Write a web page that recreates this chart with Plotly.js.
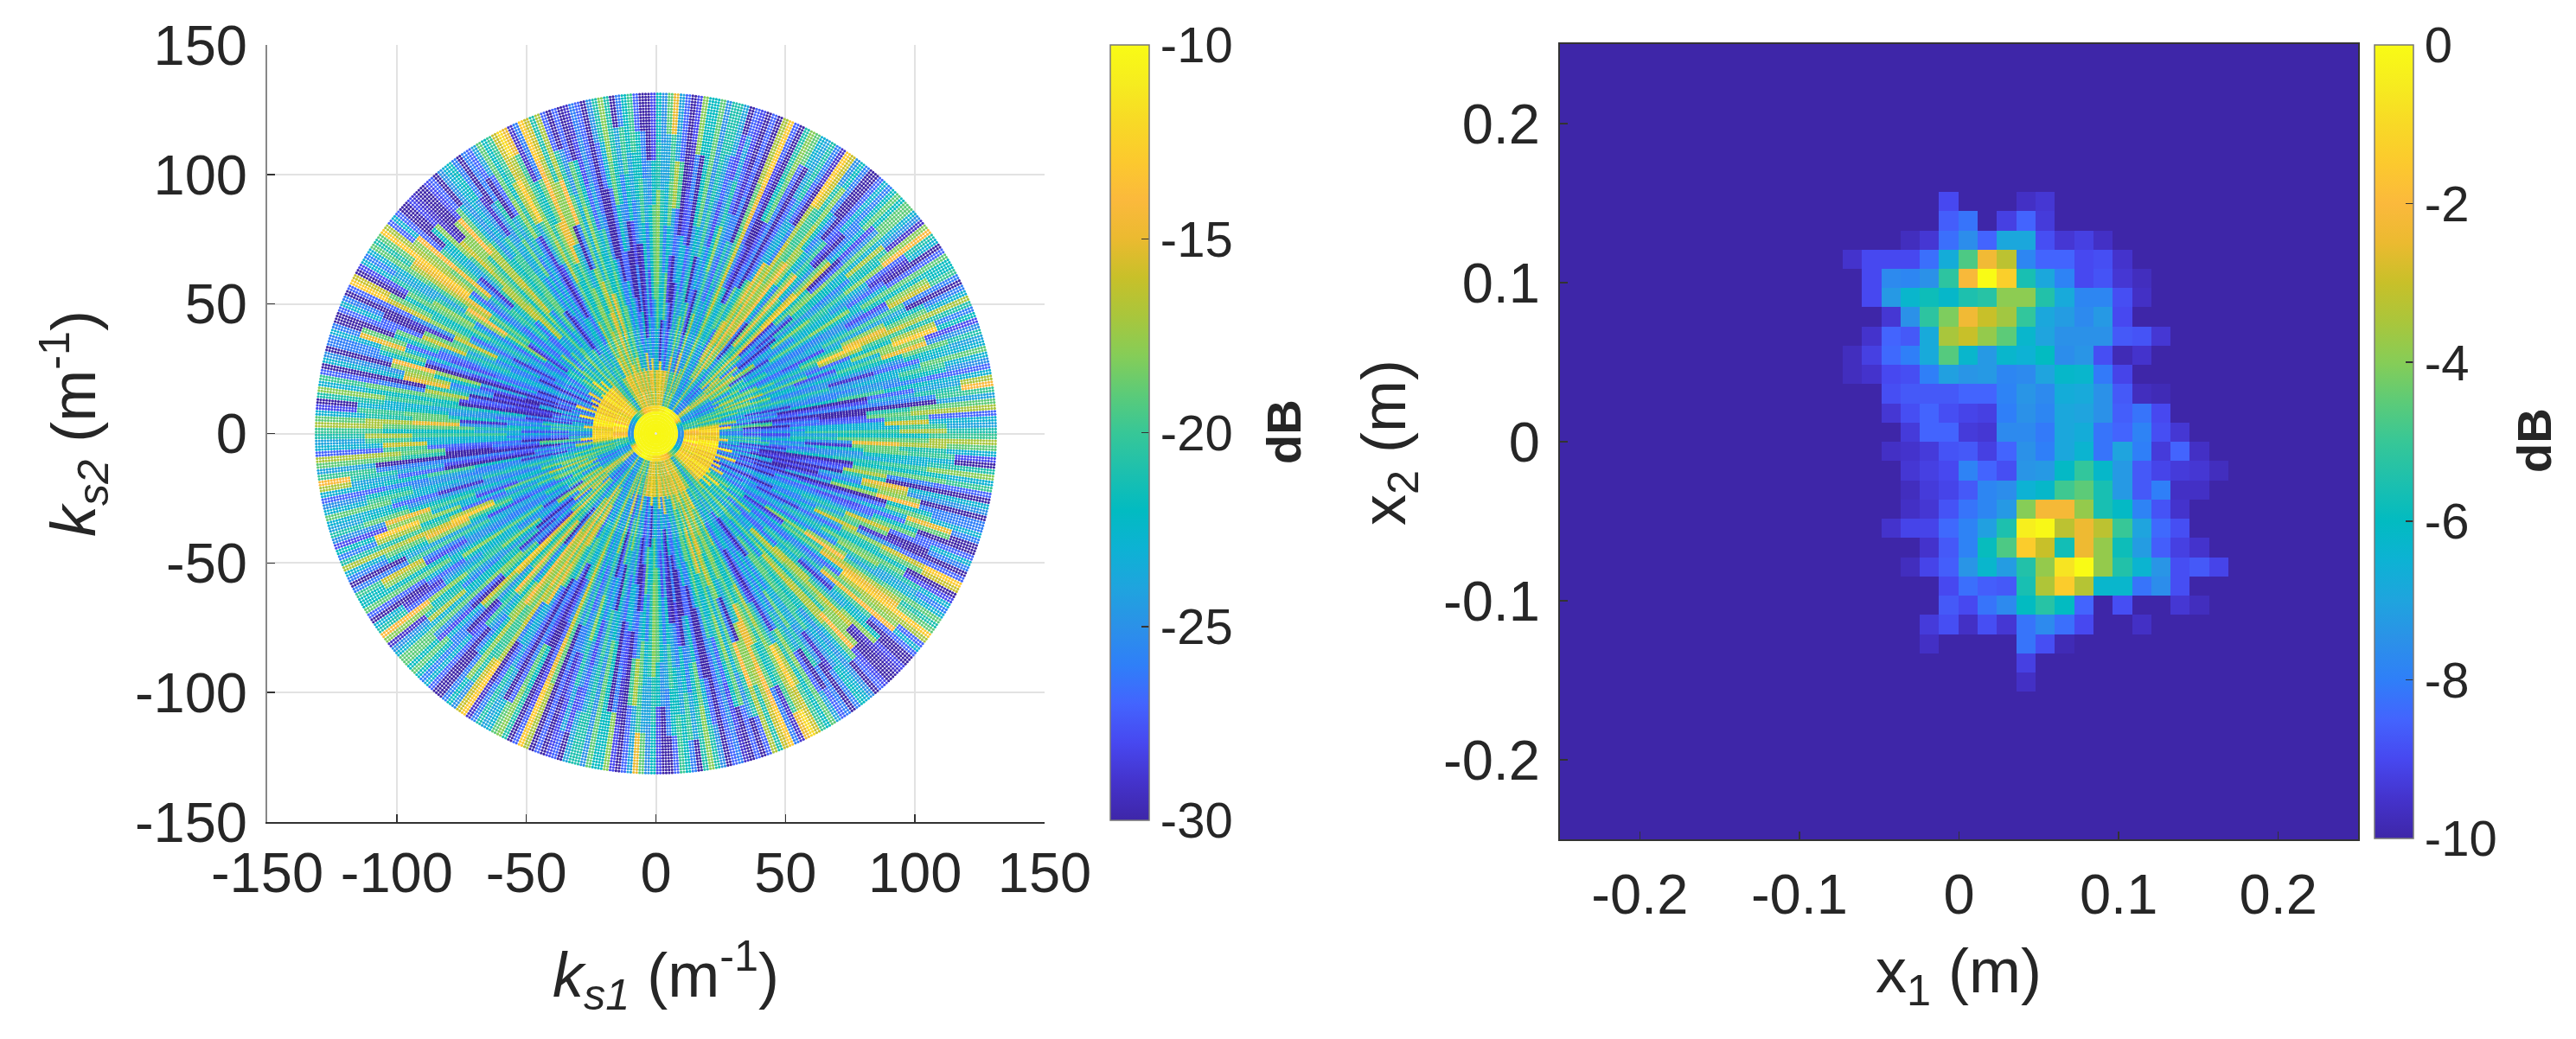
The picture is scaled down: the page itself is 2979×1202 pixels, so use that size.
<!DOCTYPE html>
<html><head><meta charset="utf-8">
<script src="https://cdn.plot.ly/plotly-3.0.1.min.js"></script>
<style>html,body{margin:0;padding:0;background:#fff}#c{width:2979px;height:1202px}</style>
</head><body><div id="c"></div>
<script>
// Left panel: dB read per 2-degree wedge (0-180 deg; the disc is point-symmetric),
// radial bands from inner to outer
const bandEdges = [11, 24, 40, 58, 76, 94, 112, 132];
const discRadius = 132;
const centreValue = -10.3;
const wedgeValues = [
[-12,-25,-24,-21,-21,-18,-22],[-12,-23,-29,-25,-25,-18,-25],[-12,-20,-27,-29,-20,-18,-18],[-14,-26,-29,-28,-28,-28,-22],
[-17,-25,-29,-29,-25,-22,-15],[-21,-24,-27,-24,-22,-24,-25],[-20,-23,-24,-25,-24,-21,-24],[-19,-20,-22,-23,-27,-25,-21],
[-20,-19,-24,-23,-23,-20,-22],[-20,-19,-23,-26,-21,-16,-26],[-21,-18,-21,-25,-20,-15,-24],[-24,-18,-21,-23,-15,-18,-19],
[-25,-19,-24,-20,-16,-20,-24],[-25,-20,-25,-26,-22,-22,-28],[-25,-21,-25,-24,-27,-17,-21],[-24,-20,-24,-24,-23,-20,-20],
[-22,-18,-27,-21,-20,-25,-29],[-18,-18,-25,-22,-24,-28,-22],[-16,-17,-25,-20,-22,-20,-16],[-16,-18,-28,-23,-24,-19,-27],
[-20,-17,-25,-27,-20,-21,-21],[-24,-19,-27,-20,-28,-26,-20],[-25,-17,-17,-15,-18,-25,-21],[-26,-20,-20,-20,-23,-29,-24],
[-25,-23,-17,-16,-22,-29,-29],[-25,-24,-28,-24,-20,-24,-28],[-22,-17,-15,-15,-18,-19,-23],[-18,-16,-16,-17,-18,-19,-15],
[-22,-18,-17,-16,-24,-28,-27],[-24,-19,-16,-19,-25,-25,-22],[-25,-25,-21,-28,-28,-29,-21],[-24,-24,-21,-28,-29,-20,-19],
[-22,-21,-21,-26,-28,-29,-28],[-17,-18,-19,-18,-18,-17,-15],[-18,-24,-24,-23,-28,-29,-29],[-22,-25,-24,-26,-25,-28,-29],
[-16,-19,-22,-20,-23,-26,-29],[-20,-26,-28,-24,-26,-25,-22],[-22,-24,-21,-28,-22,-23,-23],[-16,-19,-22,-23,-20,-20,-20],
[-16,-24,-23,-25,-29,-28,-20],[-15,-26,-28,-24,-29,-30,-29],[-14,-24,-25,-29,-25,-18,-25],[-14,-29,-21,-24,-21,-22,-17],
[-15,-24,-21,-20,-20,-23,-24],[-17,-23,-24,-20,-20,-23,-29],[-15,-24,-26,-24,-22,-24,-29],[-15,-25,-29,-30,-25,-23,-21],
[-16,-24,-28,-30,-24,-22,-28],[-16,-23,-25,-28,-23,-20,-19],[-16,-23,-24,-29,-29,-25,-23],[-16,-20,-21,-24,-28,-29,-29],
[-16,-20,-20,-21,-25,-26,-27],[-16,-19,-17,-21,-20,-21,-29],[-15,-19,-18,-21,-21,-23,-29],[-16,-18,-17,-20,-28,-16,-19],
[-16,-17,-19,-22,-16,-15,-14],[-14,-17,-19,-20,-16,-20,-27],[-15,-19,-21,-19,-20,-19,-14],[-16,-22,-25,-26,-22,-15,-18],
[-17,-21,-23,-28,-27,-19,-20],[-20,-23,-24,-24,-22,-28,-25],[-23,-22,-26,-24,-21,-23,-28],[-22,-21,-28,-21,-22,-27,-24],
[-20,-20,-22,-20,-21,-24,-24],[-18,-21,-24,-18,-19,-21,-29],[-16,-20,-21,-20,-19,-16,-30],[-13,-22,-24,-17,-18,-17,-30],
[-13,-21,-25,-19,-22,-20,-30],[-13,-20,-25,-21,-27,-21,-28],[-13,-20,-25,-23,-17,-16,-25],[-13,-20,-24,-24,-25,-15,-15],
[-12,-21,-28,-20,-16,-16,-20],[-13,-23,-25,-20,-16,-22,-21],[-13,-24,-25,-24,-19,-22,-24],[-14,-26,-24,-22,-20,-20,-29],
[-13,-25,-28,-26,-20,-18,-15],[-13,-28,-29,-24,-18,-27,-29],[-13,-25,-24,-22,-17,-28,-24],[-13,-25,-24,-24,-25,-20,-28],
[-13,-29,-25,-26,-25,-17,-28],[-12,-26,-28,-29,-28,-20,-24],[-12,-25,-29,-26,-20,-16,-28],[-11,-24,-29,-25,-16,-24,-24],
[-11,-26,-30,-29,-19,-28,-29],[-11,-26,-30,-29,-20,-20,-21],[-12,-24,-28,-24,-23,-22,-20],[-13,-21,-25,-23,-20,-21,-29],
[-14,-22,-24,-27,-17,-19,-21],[-13,-24,-26,-22,-20,-20,-18]
];
// Left panel: the narrow ring just outside the bright centre (r = 8..11), per 2-degree wedge
const innerRing = [-25,-25,-25,-25,-24,-24,-24,-24,-23,-23,-22,-21,-20,-18,-16,-14,-13,-12,-12,-11,
 -11,-11,-11,-11,-11,-11,-11,-11,-10,-10,-10,-10,-10,-10,-10,-11,-11,-11,-11,-11,
 -11,-11,-12,-12,-12,-12,-12,-12,-12,-12,-12,-12,-13,-13,-13,-13,-13,-14,-14,-14,
 -15,-16,-17,-17,-18,-19,-19,-19,-20,-20,-21,-21,-22,-22,-23,-23,-24,-24,-24,-24,
 -25,-25,-25,-25,-25,-25,-25,-25,-25,-25];
// Left panel: departure of each 1-degree spoke from its wedge, dB (thin radial streaks)
const spokeDelta = [
 1,-2, 2,-2, 1,-1, -2,2, 1,-2, 2,-2, -1,1, 2,-2, -2,1, 1,-2, 2,-2, -2,2, 1,-2, -2,2, 1,-1, -2,1, 2,-2, -1,1, 2,-2, -2,2,
 -2,2, 1,-2, 2,-1, -2,1, 2,-2, -2,2, 1,-2, -1,2, -2,1, 1,-2, -2,2, 1,-2, -2,1, 2,-2, -2,2, -1,1, 2,-2, -2,1, 2,-2, 1,-2,
 -2,2, 1,-2, -2,1, 2,-2, -1,2, 1,-2, -2,2, 1,-1, 2,-2, -2,1, 2,-2, -2,2, 1,-2, -1,2, -2,2, 2,-2, -2,1, 1,-2, -1,2, 2,-2,
 -2,1, 1,-2, 2,-2, -2,2, 1,-1, -2,2, 2,-2, -1,1, 2,-2, -2,1, 2,-2, -2,2, 1,-1, 2,-2, -2,1, 1,-2, -1,2, 2,-2, -2,1, 1,-2,
 -2,2, 1,-2, 2,-2, -1,1, -2,2, 1,-2, 2,-1, -2,1, -2,2, 1,-2
];
// Left panel: how far a wedge's band boundaries sit from the nominal edges, in m^-1
const bandShift = [0,6,-5,3,-7,5,-2,7,-6,2,-4,8,-3,4,-8,1,6,-6,3,-1,7,-4];

// Right panel: dB values, top row first, read cell by cell (20 columns, 26 rows)
const cellRows = [
[-10,-10,-10,-10,-10,-9,-10,-10,-10,-9.6,-9.4,-10,-10,-10,-10,-10,-10,-10,-10,-10],
[-10,-10,-10,-10,-10,-8.6,-8.2,-10,-9.2,-8.5,-9.3,-10,-10,-10,-10,-10,-10,-10,-10,-10],
[-10,-10,-10,-9.7,-9.4,-8.3,-7.6,-8.5,-6.9,-6.9,-8.9,-9.4,-9.2,-9.6,-10,-10,-10,-10,-10,-10],
[-9.5,-9,-9,-9,-8.3,-6.7,-4.7,-2.3,-3.2,-7.8,-8.5,-8.5,-9,-8.9,-9.5,-10,-10,-10,-10,-10],
[-10,-9,-7.7,-7.8,-7.5,-5.2,-2.1,0,-1.3,-5.6,-6.9,-7.9,-9,-8.8,-9.4,-9.7,-10,-10,-10,-10],
[-10,-9,-7.3,-6.3,-5.8,-6.2,-5.5,-5.3,-3.9,-3.9,-5.4,-6.8,-7.8,-7.8,-8.9,-9.6,-10,-10,-10,-10],
[-10,-10,-9.4,-7.5,-5.2,-4.1,-2.3,-3,-3.6,-5.1,-6.9,-7.2,-7.7,-7.3,-9,-10,-10,-10,-10,-10],
[-10,-9.5,-8.5,-8.7,-6.8,-3.5,-3,-3.8,-4.5,-6.3,-7,-7.5,-7.5,-7.5,-8.7,-8.8,-9.4,-10,-10,-10],
[-9.7,-9.2,-8.4,-8,-6.8,-4.6,-6.3,-7.3,-6.3,-6.5,-6,-7.6,-7.4,-8.9,-9.8,-9.5,-10,-10,-10,-10],
[-9.7,-9.5,-9,-8.9,-8,-7.1,-7.4,-7.3,-7.8,-7.7,-7,-6.2,-6.3,-8.1,-9.1,-10,-10,-10,-10,-10],
[-10,-10,-8.9,-8.7,-8.7,-8.7,-8.5,-8.5,-7.9,-7.4,-7.7,-6.7,-6.8,-7.5,-8.7,-9.7,-9.8,-10,-10,-10],
[-10,-10,-9.4,-8.9,-8.5,-8.9,-9.1,-9.2,-8,-7.5,-7.8,-6.9,-7,-7.5,-8.6,-8.2,-9,-10,-10,-10],
[-10,-10,-10,-9.3,-8.5,-8.5,-9.3,-9.4,-7.7,-7.7,-8.1,-6.9,-6.7,-8.2,-8.5,-7.9,-8.9,-9.4,-10,-10],
[-10,-10,-9.6,-9.5,-9.3,-8.8,-8.7,-9.2,-8.5,-7.5,-8,-6.9,-6.4,-8.2,-7,-8,-9.3,-8.5,-9.6,-10],
[-10,-10,-10,-9.4,-9.2,-9,-7.9,-8.5,-8.9,-7.4,-7.3,-6.1,-5.1,-6.2,-7.3,-8.7,-9.1,-9.3,-9.4,-9.7],
[-10,-10,-10,-9.7,-9.3,-9.1,-8.7,-7.8,-7.6,-6.5,-6.2,-4.9,-4.5,-5.6,-7.3,-8.7,-8,-9.6,-9.6,-10],
[-10,-10,-10,-9.6,-9.4,-8.8,-8.2,-7.8,-7.3,-4,-2.2,-2.2,-3.8,-5.6,-6.1,-7.9,-8.8,-9.5,-10,-10],
[-10,-10,-9.5,-9.1,-9.1,-8.4,-7.9,-7.1,-5.5,-0.4,-0.1,-3.2,-2.4,-3.2,-5,-7,-8.4,-8.9,-10,-10],
[-10,-10,-10,-10,-9.5,-8.7,-7.9,-5.9,-4.7,-1.4,-3,-5.7,-2.4,-3.8,-5.8,-7.2,-8.6,-9.2,-9.5,-10],
[-10,-10,-10,-9.7,-9.1,-8.6,-7.4,-6.3,-7.2,-5.4,-3.8,-0.7,0,-3.8,-5.4,-6.4,-7.4,-8.9,-8.7,-9.1],
[-10,-10,-10,-10,-10,-9,-8.3,-8.6,-8.7,-5.6,-3.4,-1.4,-3.3,-6.3,-6.3,-8.2,-7.6,-8.9,-10,-10],
[-10,-10,-10,-10,-10,-8.7,-9,-8.2,-7.7,-6,-5.3,-6,-8.5,-10,-8.9,-10,-10,-9.4,-9.7,-10],
[-10,-10,-10,-10,-9.3,-8.9,-9.6,-8.9,-9.4,-8.2,-7.7,-8.3,-9,-10,-10,-9.6,-10,-10,-10,-10],
[-10,-10,-10,-10,-9.6,-10,-10,-10,-10,-8.2,-8.9,-9.8,-10,-10,-10,-10,-10,-10,-10,-10],
[-10,-10,-10,-10,-10,-10,-10,-10,-10,-9.2,-10,-10,-10,-10,-10,-10,-10,-10,-10,-10],
[-10,-10,-10,-10,-10,-10,-10,-10,-10,-9.6,-10,-10,-10,-10,-10,-10,-10,-10,-10,-10]
];
const cellFirstX = -0.0729, cellTopY = 0.1571, cellStep = 0.01208, backgroundDb = -10;

const leftTicks = [-150,-100,-50,0,50,100,150];
const leftTickText = ['-150','-100','-50','0','50','100','150'];
const rightTicks = [-0.2,-0.1,0,0.1,0.2];
const rightTickText = ['-0.2','-0.1','0','0.1','0.2'];
const cbLeftTicks = [-30,-25,-20,-15,-10];
const cbLeftText = ['-30','-25','-20','-15','-10'];
const cbRightTicks = [-10,-8,-6,-4,-2,0];
const cbRightText = ['-10','-8','-6','-4','-2','0'];

const parula = [[0,'#3e26a8'],[0.05,'#4433cc'],[0.1,'#4748f0'],[0.15,'#4364fe'],[0.2,'#2f7ff8'],[0.25,'#2b91e8'],
[0.3,'#1fa4de'],[0.35,'#0db2d4'],[0.4,'#02bbc1'],[0.45,'#1dc0ae'],[0.5,'#37c797'],[0.55,'#5ccb78'],[0.6,'#86cd57'],
[0.65,'#a9c63c'],[0.7,'#c8c029'],[0.75,'#ebba30'],[0.8,'#fbb93c'],[0.85,'#fcc92e'],[0.9,'#f8d926'],[0.95,'#f6ec1f'],[1,'#f9fb15']];

const W = 2979, H = 1202;
const TEXT = '#262626', FONT = '"Liberation Sans", Arial, sans-serif';

// ---- disc: rings and spokes of the polar sampling
const ringStep = 1.14;
const kx = [], ky = [], kv = [];
function wedgeAt(deg, r) {
  const d = ((deg % 180) + 180) % 180, w = Math.min(89, Math.floor(d / 2));
  if (r < 8) return centreValue;
  if (r < bandEdges[0]) return innerRing[w];
  const shift = r > 24 ? bandShift[w % bandShift.length] : 0;
  const rr = Math.min(131.9, Math.max(bandEdges[0], r + shift));
  let b = 0;
  while (b < 6 && rr >= bandEdges[b + 1]) b++;
  const fine = spokeDelta[Math.min(179, Math.floor(d))];
  return Math.max(-30, Math.min(-10, wedgeValues[w][b] + fine));
}
for (let i = 1; i * ringStep <= discRadius; i++) {
  const r = i * ringStep;
  const spokes = r > 40 ? 720 : r > 16 ? 360 : 180;
  for (let s = 0; s < spokes; s++) {
    const deg = (s + 0.5) * 360 / spokes, a = deg * Math.PI / 180;
    kx.push(r * Math.cos(a)); ky.push(r * Math.sin(a)); kv.push(wedgeAt(deg, r));
  }
}

// ---- source grid, padded with the background level to fill the axes
const padL = 15, padR = 8, padT = 8, padB = 8;
const cols = cellRows[0].length, rows = cellRows.length;
const gx = [], gy = [], gz = [];
for (let c = -padL; c < cols + padR; c++) gx.push(cellFirstX + (c + 0.5) * cellStep);
for (let r = rows + padB - 1; r >= -padT; r--) {
  gy.push(cellTopY - (r + 0.5) * cellStep);
  const line = [];
  for (let c = -padL; c < cols + padR; c++) {
    line.push(r >= 0 && r < rows && c >= 0 && c < cols ? cellRows[r][c] : backgroundDb);
  }
  gz.push(line);
}

function cbar(top, bottom, left, tv, tt) {
  return {
    x: left / W, xanchor: 'left', xpad: 0, ypad: 0,
    y: 1 - bottom / H, yanchor: 'bottom', len: (bottom - top) / H, lenmode: 'fraction',
    thickness: 45, thicknessmode: 'pixels',
    tickmode: 'array', tickvals: tv, ticktext: tt,
    ticks: 'inside', ticklen: 9, tickwidth: 1.5, tickcolor: '#333',
    outlinecolor: '#777', outlinewidth: 1.5,
    tickfont: { family: FONT, size: 58, color: TEXT }, ticklabelposition: 'outside'
  };
}

const traces = [
  { type: 'scatter', mode: 'markers', x: kx, y: ky, xaxis: 'x', yaxis: 'y', hoverinfo: 'skip',
    marker: { size: 3.2, symbol: 'circle', color: kv, cmin: -30, cmax: -10, colorscale: parula,
      line: { width: 0 }, colorbar: cbar(52, 949, 1284, cbLeftTicks, cbLeftText) } },
  { type: 'heatmap', x: gx, y: gy, z: gz, xaxis: 'x2', yaxis: 'y2', zmin: -10, zmax: 0, hoverinfo: 'skip',
    colorscale: parula, colorbar: cbar(52, 970, 2746, cbRightTicks, cbRightText) }
];

function axis(o) {
  return Object.assign({
    showline: true, linewidth: 2, ticks: 'inside', ticklen: 9, tickwidth: 1.5, tickcolor: '#333',
    tickmode: 'array', zeroline: false, automargin: false,
    tickfont: { family: FONT, size: 65, color: TEXT }
  }, o);
}
const titleFont = { family: FONT, size: 72, color: TEXT };
const note = (x, y, text, angle, font) => ({ xref: 'paper', yref: 'paper', x: x / W, y: 1 - y / H, xanchor: 'center', yanchor: 'middle',
  showarrow: false, font: font || titleFont, text, textangle: angle || 0 });
const dbFont = { family: FONT, size: 56, color: TEXT };
const layout = {
  width: W, height: H, margin: { l: 0, r: 0, t: 0, b: 0 }, paper_bgcolor: '#fff', plot_bgcolor: '#fff', showlegend: false,
  xaxis: axis({ domain: [309 / W, 1208 / W], range: [-150, 150], tickvals: leftTicks, ticktext: leftTickText, ticklabelstandoff: 1,
    showgrid: true, gridcolor: '#e2e2e2', gridwidth: 2, linecolor: '#333', anchor: 'y' }),
  yaxis: axis({ domain: [1 - 951 / H, 1 - 52 / H], range: [-150, 150], tickvals: leftTicks, ticktext: leftTickText, ticklabelstandoff: 8,
    showgrid: true, gridcolor: '#e2e2e2', gridwidth: 2, linecolor: '#888', anchor: 'x' }),
  xaxis2: axis({ domain: [1804 / W, 2727 / W], range: [-0.25, 0.25], tickvals: rightTicks, ticktext: rightTickText, ticklabelstandoff: 6,
    showgrid: false, linecolor: '#333', mirror: true, anchor: 'y2' }),
  yaxis2: axis({ domain: [1 - 971 / H, 1 - 51 / H], range: [-0.25, 0.25], tickvals: rightTicks, ticktext: rightTickText, ticklabelstandoff: 8,
    showgrid: false, linecolor: '#333', mirror: true, anchor: 'x2' }),
  annotations: [
    note(770, 1128, '<i>k</i><sub><i>s1</i></sub> (m<sup>-1</sup>)'),
    note(85, 490, '<i>k</i><sub><i>s2</i></sub> (m<sup>-1</sup>)', -90),
    note(2265, 1128, 'x<sub>1</sub> (m)'),
    note(1605, 512, 'x<sub>2</sub> (m)', -90),
    note(1484, 500, '<b>dB</b>', -90, dbFont),
    note(2930, 510, '<b>dB</b>', -90, dbFont)
  ]
};
Plotly.newPlot('c', traces, layout, { staticPlot: true, displayModeBar: false });
</script></body></html>
